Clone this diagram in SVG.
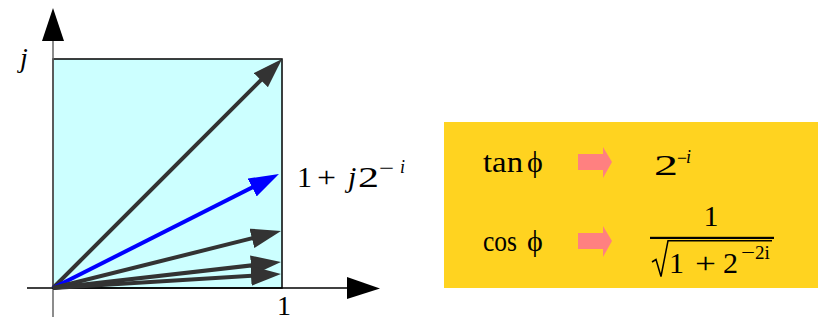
<svg xmlns="http://www.w3.org/2000/svg" width="819" height="322" viewBox="0 0 819 322">
<style>
.t{font-family:"Liberation Serif","DejaVu Serif","Times New Roman",serif;fill:#000}
.i{font-style:italic}
.vec{stroke:#333333;stroke-width:4;fill:none;marker-end:url(#hd)}
.blue{stroke:#0000ff;stroke-width:4;fill:none;marker-end:url(#hb)}
.pink{fill:#ff8080}
</style>
<defs>
<marker id="hd" markerUnits="userSpaceOnUse" viewBox="0 -10 30 20" markerWidth="30" markerHeight="20" refX="10" refY="0" orient="auto"><path d="M0,-10 L30,0 L0,10 z" fill="#333333"/></marker>
<marker id="hb" markerUnits="userSpaceOnUse" viewBox="0 -10 30 20" markerWidth="30" markerHeight="20" refX="10" refY="0" orient="auto"><path d="M0,-10 L30,0 L0,10 z" fill="#0000ff"/></marker>
</defs>
<rect width="819" height="322" fill="#ffffff"/>
<g id="plane">
<rect x="53" y="59" width="229" height="229" fill="#ccffff" stroke="#000" stroke-width="1.5"/>
</g>
<g id="axes">
<line x1="53" y1="41" x2="53" y2="317" stroke="#666" stroke-width="1.5"/>
<polygon points="53,8 42,41 64,41" fill="#000"/>
<line x1="27" y1="288" x2="347" y2="288" stroke="#000" stroke-width="1.5"/>
<polygon points="380,288.5 347,277 347,299" fill="#000"/>
<text class="t i" x="20" y="67" font-size="28">j</text>
<text class="t" x="284" y="315" font-size="28" text-anchor="middle">1</text>
</g>
<g id="connectors">
<line class="vec" x1="53" y1="288" x2="267.9" y2="73.1"/>
<line class="blue" x1="53" y1="288" x2="261.1" y2="183"/>
<line class="vec" x1="53" y1="288" x2="261.6" y2="235.9"/>
<line class="vec" x1="53" y1="288" x2="261.1" y2="264.3"/>
<line class="vec" x1="53" y1="288" x2="261" y2="275.2"/>
</g>
<g id="label-vector">
<text class="t" x="297" y="187" font-size="30">1</text>
<text class="t" x="317" y="187" font-size="30" textLength="19" lengthAdjust="spacingAndGlyphs">+</text>
<text class="t i" x="348" y="187" font-size="30">j</text>
<text class="t" x="358" y="187" font-size="30" textLength="21" lengthAdjust="spacingAndGlyphs">2</text>
<text class="t" x="379" y="174" font-size="18" textLength="15" lengthAdjust="spacingAndGlyphs">−</text>
<text class="t i" x="400" y="173" font-size="18">i</text>
</g>
<g id="formula-box">
<rect x="444" y="122" width="374" height="166" fill="#ffd320"/>
<text class="t" x="483" y="172" font-size="30" textLength="40" lengthAdjust="spacingAndGlyphs">tan</text>
<text class="t" x="527" y="172" font-size="30">ϕ</text>
<text class="t" x="483" y="251" font-size="30" textLength="34" lengthAdjust="spacingAndGlyphs">cos</text>
<text class="t" x="527" y="251" font-size="30">ϕ</text>
<polygon class="pink" points="578,154 603,154 603,147 612,162 603,178 603,170 578,170"/>
<polygon class="pink" points="578,233 603,233 603,226 612,241 603,257 603,249 578,249"/>
<text class="t" x="654" y="175" font-size="30" textLength="24" lengthAdjust="spacingAndGlyphs">2</text>
<text class="t" x="677" y="164" font-size="18" textLength="10" lengthAdjust="spacingAndGlyphs">−</text>
<text class="t i" x="686" y="163" font-size="18">i</text>
<text class="t" x="711" y="226" font-size="30" text-anchor="middle">1</text>
<rect x="650" y="236.8" width="124" height="2.2" fill="#000"/>
<path d="M652,262 L656,259.5 L661,276.5 L668,240.8 L772,240.8" fill="none" stroke="#000" stroke-width="1.5"/>
<text class="t" x="669" y="273" font-size="30">1</text>
<text class="t" x="695" y="273" font-size="30" textLength="21" lengthAdjust="spacingAndGlyphs">+</text>
<text class="t" x="723" y="273" font-size="30">2</text>
<text class="t" x="741" y="259" font-size="19" textLength="14" lengthAdjust="spacingAndGlyphs">−</text>
<text class="t" x="755" y="259" font-size="19">2i</text>
</g>
</svg>
